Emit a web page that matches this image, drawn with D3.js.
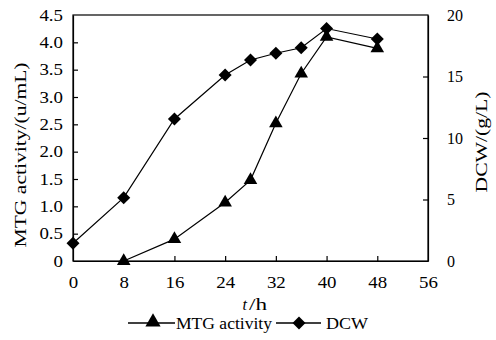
<!DOCTYPE html>
<html>
<head>
<meta charset="utf-8">
<script src="https://cdn.jsdelivr.net/npm/d3@7"></script>
<style>
  html, body { margin: 0; padding: 0; background: #fff; }
  svg { display: block; }
</style>
</head>
<body>
<div id="chart"></div>
<script>
// Data
const hours = [0, 8, 16, 24, 28, 32, 36, 40, 48];
const mtgHours = [8, 16, 24, 28, 32, 36, 40, 48];
const mtgActivity = [0, 0.40, 1.07, 1.48, 2.52, 3.43, 4.10, 3.89];
const dcw = [1.44, 5.15, 11.55, 15.12, 16.34, 16.89, 17.34, 18.9, 18.05];

const xTicks = [0, 8, 16, 24, 32, 40, 48, 56];
const leftTicks = [0, 0.5, 1.0, 1.5, 2.0, 2.5, 3.0, 3.5, 4.0, 4.5];
const rightTicks = [0, 5, 10, 15, 20];

const width = 496, height = 340;
const margin = { top: 15, right: 68, bottom: 79, left: 73 };
const plotW = width - margin.left - margin.right;
const plotH = height - margin.top - margin.bottom;
const serif = "'Liberation Serif', 'Times New Roman', serif";

const svg = d3.select('#chart').append('svg')
  .attr('width', width)
  .attr('height', height)
  .style('font-family', serif);

const g = svg.append('g')
  .attr('transform', `translate(${margin.left},${margin.top})`);

const x = d3.scaleLinear().domain([0, 56]).range([0, plotW]);
const yL = d3.scaleLinear().domain([0, 4.5]).range([plotH, 0]);
const yR = d3.scaleLinear().domain([0, 20]).range([plotH, 0]);

// frame
g.append('rect')
  .attr('width', plotW).attr('height', plotH)
  .attr('fill', 'none').attr('stroke', '#000').attr('stroke-width', 1.2);

// axes, ticks pointing inward
const fmtL = d => (d === 0 ? '0' : d.toFixed(1));
const xAxis = g.append('g').attr('transform', `translate(0,${plotH})`)
  .call(d3.axisBottom(x).tickValues(xTicks).tickSize(-5).tickPadding(16).tickSizeOuter(0));
const lAxis = g.append('g')
  .call(d3.axisLeft(yL).tickValues(leftTicks).tickFormat(fmtL).tickSize(-5).tickPadding(10).tickSizeOuter(0));
const rAxis = g.append('g').attr('transform', `translate(${plotW},0)`)
  .call(d3.axisRight(yR).tickValues(rightTicks).tickSize(-5).tickPadding(19).tickSizeOuter(0));

[xAxis, lAxis, rAxis].forEach(a => {
  a.attr('font-family', null).attr('font-size', 16);
  a.select('.domain').attr('stroke', '#000').attr('stroke-width', 1.2);
  a.selectAll('.tick line').attr('stroke', '#000').attr('stroke-width', 1.2);
  a.selectAll('.tick text').attr('fill', '#000').style('font-family', serif);
});
// the original type is a bit wider than Liberation Serif
[xAxis, lAxis].forEach(a => {
  a.selectAll('.tick text').each(function () {
    const w = this.getComputedTextLength();
    d3.select(this).attr('textLength', w * 1.18).attr('lengthAdjust', 'spacingAndGlyphs');
  });
});
// no tick marks on the corners
xAxis.selectAll('.tick').filter(d => d === 0 || d === 56).select('line').remove();
lAxis.selectAll('.tick').filter(d => d === 0 || d === 4.5).select('line').remove();
rAxis.selectAll('.tick').filter(d => d === 0 || d === 20).select('line').remove();

// lines
const mtgPts = mtgHours.map((h, i) => [h, mtgActivity[i]]);
const dcwPts = hours.map((h, i) => [h, dcw[i]]);

g.append('path')
  .datum(mtgPts)
  .attr('fill', 'none').attr('stroke', '#000').attr('stroke-width', 1.2)
  .attr('d', d3.line().x(d => x(d[0])).y(d => yL(d[1])));

g.append('path')
  .datum(dcwPts)
  .attr('fill', 'none').attr('stroke', '#000').attr('stroke-width', 1.2)
  .attr('d', d3.line().x(d => x(d[0])).y(d => yR(d[1])));

const tri = d3.symbol().type(d3.symbolTriangle).size(80);
const dia = d3.symbol().type(d3.symbolSquare).size(85);

g.selectAll('path.tri')
  .data(mtgPts).enter().append('path')
  .attr('class', 'tri')
  .attr('d', tri)
  .attr('transform', d => `translate(${x(d[0])},${yL(d[1])})`)
  .attr('fill', '#000');

g.selectAll('path.dia')
  .data(dcwPts).enter().append('path')
  .attr('class', 'dia')
  .attr('d', dia)
  .attr('transform', d => `translate(${x(d[0])},${yR(d[1])}) rotate(45)`)
  .attr('fill', '#000');

// axis titles
svg.append('text')
  .attr('transform', 'translate(26,155) rotate(-90)')
  .attr('text-anchor', 'middle')
  .attr('font-size', 17)
  .attr('textLength', 185).attr('lengthAdjust', 'spacingAndGlyphs')
  .text('MTG activity/(u/mL)');

svg.append('text')
  .attr('transform', 'translate(487,142) rotate(-90)')
  .attr('text-anchor', 'middle')
  .attr('font-size', 17)
  .attr('textLength', 101).attr('lengthAdjust', 'spacingAndGlyphs')
  .text('DCW/(g/L)');

svg.append('text')
  .attr('x', 247).attr('y', 310)
  .attr('text-anchor', 'end')
  .attr('font-size', 16)
  .attr('font-style', 'italic')
  .text('t');
svg.append('text')
  .attr('x', 249).attr('y', 310)
  .attr('font-size', 16)
  .attr('textLength', 18).attr('lengthAdjust', 'spacingAndGlyphs')
  .text('/h');

// legend
const leg = svg.append('g');
const legTri = d3.symbol().type(d3.symbolTriangle).size(100);
leg.append('line').attr('x1', 128).attr('x2', 175).attr('y1', 323).attr('y2', 323)
  .attr('stroke', '#000').attr('stroke-width', 1.5);
leg.append('path').attr('d', legTri).attr('transform', 'translate(153,322)').attr('fill', '#000');
leg.append('text').attr('x', 176).attr('y', 329).attr('font-size', 16)
  .attr('textLength', 96).attr('lengthAdjust', 'spacingAndGlyphs').text('MTG activity');
leg.append('line').attr('x1', 276).attr('x2', 321).attr('y1', 323).attr('y2', 323)
  .attr('stroke', '#000').attr('stroke-width', 1.5);
leg.append('path').attr('d', dia).attr('transform', 'translate(299,323) rotate(45)').attr('fill', '#000');
leg.append('text').attr('x', 326).attr('y', 329).attr('font-size', 16)
  .attr('textLength', 42).attr('lengthAdjust', 'spacingAndGlyphs').text('DCW');
</script>
</body>
</html>
